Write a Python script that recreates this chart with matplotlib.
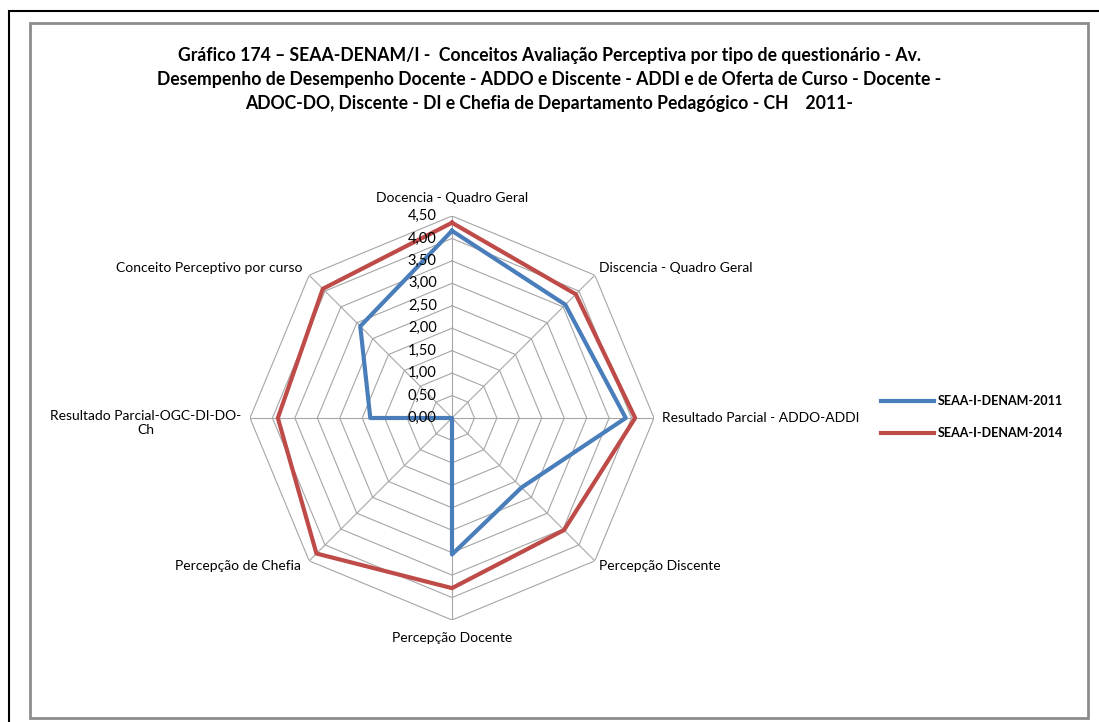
import numpy as np
import matplotlib
matplotlib.use("Agg")
import matplotlib.pyplot as plt
from matplotlib.patches import Rectangle

plt.rcParams['font.family'] = ['Lato', 'DejaVu Sans']

categories = ['Docencia - Quadro Geral', 'Discencia - Quadro Geral', 'Resultado Parcial - ADDO-ADDI',
              'Percepção Discente', 'Percepção Docente', 'Percepção de Chefia',
              'Resultado Parcial-OGC-DI-DO-\nCh', 'Conceito Perceptivo por curso']
s2011 = [4.17, 3.57, 3.87, 2.19, 3.04, 0.00, 1.82, 2.89]
s2014 = [4.35, 3.90, 4.08, 3.53, 3.79, 4.27, 3.88, 4.07]
ticks = [0.0, 0.5, 1.0, 1.5, 2.0, 2.5, 3.0, 3.5, 4.0, 4.5]
tick_labels = ['0,00', '0,50', '1,00', '1,50', '2,00', '2,50', '3,00', '3,50', '4,00', '4,50']

W, H = 1099, 722
fig = plt.figure(figsize=(W / 100, H / 100), dpi=100)

# molduras
fig.patches.append(Rectangle((9 / W, -0.01), 1.1, 1 - 11 / H + 0.01, transform=fig.transFigure,
                             fill=False, edgecolor='black', lw=1.5))
fig.patches.append(Rectangle((30 / W, 1 - 718 / H), (1088 - 30) / W, (718 - 23) / H,
                             transform=fig.transFigure, fill=False, edgecolor='#8c8c8c', lw=2))

cx, cy, R = 452, 418, 202
ax = fig.add_axes([(cx - R) / W, (H - cy - R) / H, 2 * R / W, 2 * R / H], projection='polar')
ax.set_theta_offset(np.pi / 2)
ax.set_theta_direction(-1)
ax.set_ylim(0, 4.5)
ax.grid(False)
ax.spines['polar'].set_visible(False)
ax.set_xticks([])
ax.set_yticks([])
ax.patch.set_alpha(0)

n = len(categories)
ang = np.arange(n) * 2 * np.pi / n
ang_c = np.append(ang, ang[0])

# grade octogonal
for t in ticks[1:]:
    ax.plot(ang_c, [t] * (n + 1), color='#a6a6a6', lw=0.8, zorder=1)
for a in ang:
    ax.plot([a, a], [0, 4.5], color='#a6a6a6', lw=0.8, zorder=1)

ax.plot(ang_c, s2011 + s2011[:1], color='#4a7ebb', lw=3, zorder=3, label='SEAA-I-DENAM-2011')
ax.plot(ang_c, s2014 + s2014[:1], color='#be4b48', lw=3, zorder=3, label='SEAA-I-DENAM-2014')

for t, lab in zip(ticks, tick_labels):
    ax.annotate(lab, (0, t), xytext=(-11, 0), textcoords='offset points',
                ha='right', va='center', fontsize=10.5, zorder=4)

# rótulos das categorias (deslocamentos em pontos)
offs = [(0, 13, 'center', 'center'), (3, 5, 'left', 'center'), (6, 0, 'left', 'center'),
        (3, -4, 'left', 'center'), (0, -13, 'center', 'center'), (-6, -4, 'right', 'center'),
        (-6, 6, 'right', 'top'), (-5, 5, 'right', 'center')]
for a, lab, (dx, dy, ha, va) in zip(ang, categories, offs):
    ax.annotate(lab, (a, 4.5), xytext=(dx, dy), textcoords='offset points',
                ha=ha, va=va, fontsize=10, multialignment='center', annotation_clip=False)

fig.text(0.5, 1 - 80 / H,
         'Gráfico 174 – SEAA-DENAM/I -  Conceitos Avaliação Perceptiva por tipo de questionário - Av.\n'
         'Desempenho de Desempenho Docente - ADDO e Discente - ADDI e de Oferta de Curso - Docente -\n'
         'ADOC-DO, Discente - DI e Chefia de Departamento Pedagógico - CH    2011-',
         ha='center', va='center', fontsize=12.7, fontweight='bold', linespacing=1.5)

fig.legend(loc='center left', bbox_to_anchor=(870 / W, 1 - 417 / H), frameon=False,
           prop={'size': 9, 'weight': 'bold'}, handlelength=4.2, labelspacing=1.6,
           handletextpad=0.3)

fig.savefig('out.png', dpi=100)
